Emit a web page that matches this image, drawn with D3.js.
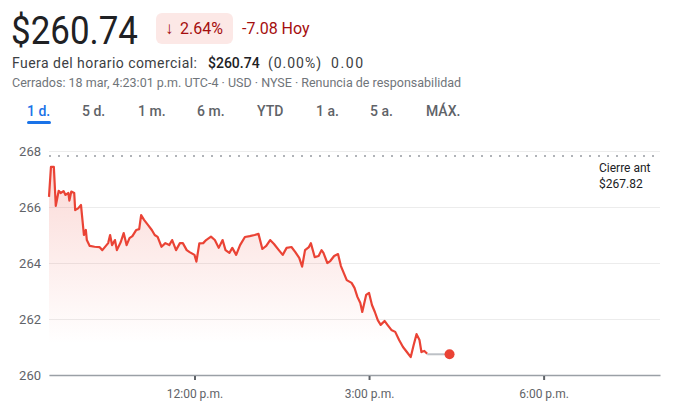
<!DOCTYPE html>
<html>
<head>
<meta charset="utf-8">
<script src="https://cdn.jsdelivr.net/npm/d3@7"></script>
<style>
  body { margin: 0; background: #fff; font-family: Roboto, "Noto Sans", sans-serif; }
  svg { display: block; }
</style>
</head>
<body>
<script>
// intraday data, 18 mar
var times = ["9:30","9:32","9:35","9:37","9:40","9:42","9:45","9:47","9:50","9:51","9:53","9:56","9:57","10:00","10:03","10:04","10:06","10:08","10:09","10:12","10:17","10:22","10:25","10:31","10:33","10:35","10:38","10:40","10:44","10:47","10:50","10:53","10:56","11:00","11:03","11:05","11:08","11:12","11:16","11:19","11:22","11:26","11:30","11:34","11:37","11:41","11:45","11:48","11:52","11:55","12:00","12:02","12:05","12:09","12:12","12:17","12:21","12:25","12:29","12:32","12:36","12:39","12:43","12:47","12:52","12:57","13:02","13:06","13:10","13:14","13:18","13:22","13:27","13:31","13:35","13:40","13:44","13:48","13:51","13:54","13:58","14:00","14:04","14:08","14:11","14:13","14:17","14:20","14:24","14:28","14:31","14:34","14:37","14:42","14:45","14:48","14:51","14:53","14:57","15:00","15:03","15:06","15:09","15:12","15:16","15:19","15:23","15:27","15:31","15:35","15:39","15:43","15:46","15:49","15:52","15:54","15:57","16:00"];
var prices = [266.36,267.43,267.43,266.04,266.58,266.50,266.57,266.43,266.50,266.23,266.55,266.50,265.89,265.95,266.07,265.71,265.00,265.18,264.82,264.61,264.58,264.57,264.46,264.71,265.00,264.64,264.82,264.46,264.75,265.07,264.64,264.89,264.96,265.18,265.21,265.71,265.54,265.36,265.18,265.00,264.93,264.58,264.71,264.64,264.82,264.46,264.71,264.71,264.46,264.39,264.29,264.05,264.70,264.71,264.82,264.94,264.82,264.54,264.82,264.46,264.36,264.54,264.29,264.64,264.93,264.96,265.00,265.04,264.50,264.61,264.82,264.68,264.46,264.29,264.54,264.57,264.39,264.18,263.87,264.46,264.57,264.71,264.21,264.25,264.46,264.36,264.00,264.07,264.25,264.32,263.89,263.64,263.39,263.29,263.11,262.79,262.57,262.25,262.86,262.93,262.50,262.25,261.96,261.79,261.93,261.79,261.61,261.54,261.25,261.00,260.82,260.64,261.07,261.46,261.25,260.82,260.86,260.76];
var afterTimes = ["16:00","16:23"];
var afterPrices = [260.74,260.74];
var prevClose = 267.82;
var yTicks = [260,262,264,266,268];
var xTickTimes = ["12:00","15:00","18:00"];
var xTickLabels = ["12:00 p.m.","3:00 p.m.","6:00 p.m."];
var tabs = ["1 d.","5 d.","1 m.","6 m.","YTD","1 a.","5 a.","MÁX."];
var tabX = [27,82,138,197,257,316,370,426];

var width = 697, height = 408;
var parseT = d3.timeParse("%H:%M");
var red = "#ea4335";

var data = times.map(function(t,i){ return {t: parseT(t), v: prices[i]}; });
var after = afterTimes.map(function(t,i){ return {t: parseT(t), v: afterPrices[i]}; });

var svg = d3.select('body').append('svg')
            .attr('width', width)
            .attr('height', height);

// header
svg.append('text').attr('x', 11).attr('y', 44)
   .attr('font-size', 38).attr('fill', '#202124')
   .attr('textLength', 127).attr('lengthAdjust', 'spacingAndGlyphs')
   .text('$260.74');
svg.append('rect').attr('x', 156).attr('y', 13).attr('width', 77).attr('height', 31)
   .attr('rx', 6).attr('fill', '#fce8e6');
svg.append('text').attr('x', 165).attr('y', 34).attr('font-size', 17).attr('fill', '#a50e0e')
   .text('↓');
svg.append('text').attr('x', 180).attr('y', 34).attr('font-size', 16).attr('fill', '#a50e0e')
   .text('2.64%');
svg.append('text').attr('x', 242).attr('y', 34).attr('font-size', 16).attr('fill', '#a50e0e')
   .text('-7.08 Hoy');

var l2 = svg.append('text').attr('x', 12).attr('y', 68).attr('font-size', 14).attr('fill', '#3c4043');
l2.append('tspan').attr('textLength', 185).text('Fuera del horario comercial:');
l2.append('tspan').attr('x', 208).attr('font-weight', 500).attr('fill', '#202124').text('$260.74');
l2.append('tspan').attr('x', 268).attr('textLength', 53).text('(0.00%)');
l2.append('tspan').attr('x', 331).attr('textLength', 32).text('0.00');

svg.append('text').attr('x', 12).attr('y', 87).attr('font-size', 12.5).attr('fill', '#70757a')
   .text('Cerrados: 18 mar, 4:23:01 p.m. UTC-4 · USD · NYSE · Renuncia de responsabilidad');

// range tabs
svg.selectAll('.tab').data(tabs).enter().append('text')
   .attr('class', 'tab')
   .attr('x', function(d,i){ return tabX[i]; })
   .attr('y', 116)
   .attr('font-size', 14)
   .attr('font-weight', 500)
   .attr('fill', function(d,i){ return i == 0 ? '#1a73e8' : '#5f6368'; })
   .text(function(d){ return d; });
svg.append('rect').attr('x', 27).attr('y', 121).attr('width', 24).attr('height', 3)
   .attr('rx', 1.5).attr('fill', '#1a73e8');

// scales
var x = d3.scaleTime()
          .domain([parseT("9:30"), parseT("20:00")])
          .range([49, 660]);
var y = d3.scaleLinear()
          .domain([260, 268])
          .range([375, 151]);

// grid + y labels
var yAxis = d3.axisLeft(y).tickValues(yTicks).tickSize(-(660 - 49)).tickPadding(8);
var gy = svg.append('g').attr('transform', 'translate(49,0)').call(yAxis);
gy.select('.domain').remove();
gy.selectAll('.tick line').attr('stroke', '#ececec');
gy.selectAll('.tick text').attr('font-size', 13).attr('font-family', 'Roboto').attr('fill', '#5f6368');

// fill gradient
var defs = svg.append('defs');
var grad = defs.append('linearGradient').attr('id', 'fade')
               .attr('x1', 0).attr('y1', 0).attr('x2', 0).attr('y2', 1);
grad.append('stop').attr('offset', '0%').attr('stop-color', red).attr('stop-opacity', 0.2);
grad.append('stop').attr('offset', '85%').attr('stop-color', red).attr('stop-opacity', 0);

var area = d3.area()
             .x(function(d){ return x(d.t); })
             .y0(y(260))
             .y1(function(d){ return y(d.v); });
svg.append('path').attr('d', area(data)).attr('fill', 'url(#fade)');

// previous close dotted line
svg.append('line')
   .attr('x1', 49).attr('x2', 656)
   .attr('y1', y(prevClose)).attr('y2', y(prevClose))
   .attr('stroke', '#b0b3b8').attr('stroke-width', 2)
   .attr('stroke-dasharray', '2,7');
svg.append('text').attr('x', 599).attr('y', 172).attr('font-size', 12).attr('fill', '#202124')
   .text('Cierre ant');
svg.append('text').attr('x', 599).attr('y', 188).attr('font-size', 12).attr('fill', '#202124')
   .text('$' + prevClose.toFixed(2));

// x axis
var xAxis = d3.axisBottom(x)
              .tickValues(xTickTimes.map(parseT))
              .tickSize(0)
              .tickPadding(14)
              .tickFormat(function(d,i){ return xTickLabels[i]; });
var gx = svg.append('g').attr('transform', 'translate(0,' + y(260) + ')').call(xAxis);
gx.select('.domain').attr('stroke', '#9aa0a6').attr('stroke-width', 1.5);
gx.selectAll('.tick text').attr('font-size', 12).attr('font-family', 'Roboto').attr('fill', '#5f6368');
gx.selectAll('.tick').append('line')
  .attr('y1', 1).attr('y2', 5).attr('stroke', '#5f6368').attr('stroke-width', 2);

// price line
var line = d3.line()
             .x(function(d){ return x(d.t); })
             .y(function(d){ return y(d.v); });
svg.append('path').attr('d', line(data))
   .attr('fill', 'none').attr('stroke', red).attr('stroke-width', 2.2)
   .attr('stroke-linejoin', 'round');

// after hours
svg.append('path').attr('d', line(after))
   .attr('fill', 'none').attr('stroke', '#bdc1c6').attr('stroke-width', 2);
svg.append('circle')
   .attr('cx', x(after[1].t)).attr('cy', y(after[1].v))
   .attr('r', 5).attr('fill', red);
</script>
</body>
</html>
